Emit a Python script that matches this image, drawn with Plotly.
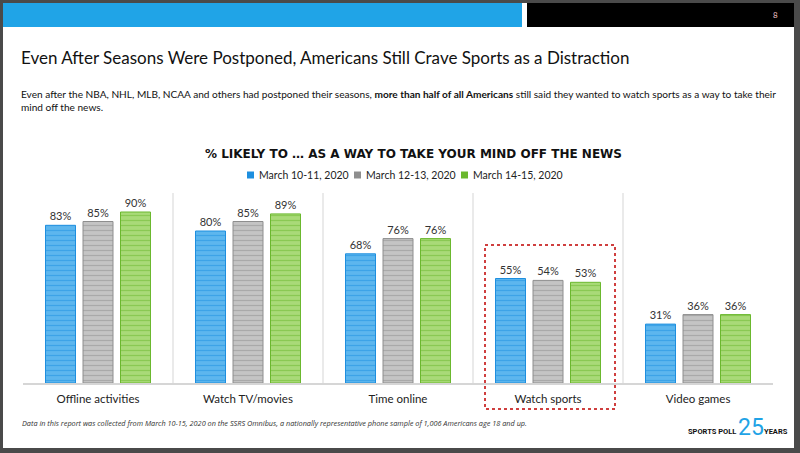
import plotly.graph_objects as go

categories = ["Offline activities", "Watch TV/movies", "Time online", "Watch sports", "Video games"]
march_10_11 = [83, 80, 68, 55, 31]
march_12_13 = [85, 85, 76, 54, 36]
march_14_15 = [90, 89, 76, 53, 36]
series_names = ["March 10-11, 2020", "March 12-13, 2020", "March 14-15, 2020"]

W, H = 800, 453
L, R, T, B = 23, 27, 193, 70
FONT = "Lato"


def px(x):
    return (x - L) / (W - L - R)


def py(y):
    return (H - B - y) / (H - T - B)


fig = go.Figure()

styles = [("#5DB6EE", "#1E8FDF"), ("#C4C4C4", "#8E8E8E"), ("#A9DA78", "#6BB82E")]
for name, vals, (fill, line) in zip(series_names, [march_10_11, march_12_13, march_14_15], styles):
    fig.add_trace(go.Bar(
        x=categories, y=vals, name=name, showlegend=False,
        marker=dict(color=fill, line=dict(color=line, width=1),
                    pattern=dict(shape="-", fgcolor=line, size=5, solidity=0.25)),
        texttemplate="%{y}%", textposition="outside",
        textfont=dict(family=FONT, size=11, color="#333333"),
        cliponaxis=False,
    ))

shapes = []
# page frame
shapes.append(dict(type="rect", xref="paper", yref="paper", x0=px(3), x1=px(794), y0=py(3), y1=py(448),
                   fillcolor="white", line=dict(width=0), layer="below"))
shapes.append(dict(type="rect", xref="paper", yref="paper", x0=px(3), x1=px(522), y0=py(3), y1=py(27),
                   fillcolor="#20A4E7", line=dict(width=0), layer="below"))
shapes.append(dict(type="rect", xref="paper", yref="paper", x0=px(527), x1=px(794), y0=py(3), y1=py(27),
                   fillcolor="#000000", line=dict(width=0), layer="below"))
# category separators
for i in range(len(categories) - 1):
    shapes.append(dict(type="line", xref="x", yref="paper", x0=i + 0.5, x1=i + 0.5, y0=0, y1=1,
                       line=dict(color="#E3E3E3", width=1.5), layer="below"))
# highlight box
shapes.append(dict(type="rect", xref="paper", yref="paper", x0=px(485), x1=px(615), y0=py(245), y1=py(409),
                   line=dict(color="#C00000", width=1.5, dash="dot")))

annotations = [
    dict(text="8", x=px(775), y=py(15), xanchor="center", font=dict(family=FONT, size=8, color="#F2C4C4")),
    dict(text="Even After Seasons Were Postponed, Americans Still Crave Sports as a Distraction",
         x=px(19), y=py(57), xanchor="left", font=dict(family=FONT, size=17, color="#111111")),
    dict(text="Even after the NBA, NHL, MLB, NCAA and others had postponed their seasons, "
              "<b>more than half of all Americans</b> still said they wanted to watch sports as a way to take their"
              "<br>mind off the news.",
         x=px(19), y=py(100), xanchor="left", align="left",
         font=dict(family=FONT, size=10.1, color="#111111")),
    dict(text="<b>% LIKELY TO … AS A WAY TO TAKE YOUR MIND OFF THE NEWS</b>",
         x=px(413), y=py(154), xanchor="center", font=dict(family="DejaVu Sans", size=12, color="#111111")),
    dict(text="<i>Data in this report was collected from March 10-15, 2020 on the SSRS Omnibus, "
              "a nationally representative phone sample of 1,006 Americans age 18 and up.</i>",
         x=px(20), y=py(423), xanchor="left", font=dict(family="Open Sans", size=7.3, color="#333333")),
    dict(text="<b>SPORTS POLL</b>", x=px(738), y=py(431.5), xanchor="right",
         font=dict(family="Roboto", size=7.5, color="#111111")),
    dict(text="25", x=px(751), y=py(427), xanchor="center", font=dict(family="Roboto", size=23, color="#1FA3E6")),
    dict(text="<b>YEARS</b>", x=px(762), y=py(431.5), xanchor="left",
         font=dict(family="Roboto", size=7.5, color="#111111")),
]

# legend drawn by hand to keep its compact spacing
legend_x = [247, 354, 461]
for (fill, line), name, lx in zip(styles, series_names, legend_x):
    shapes.append(dict(type="rect", xref="paper", yref="paper", x0=px(lx), x1=px(lx + 7),
                       y0=py(171.5), y1=py(178.5), fillcolor=line, line=dict(width=0)))
    annotations.append(dict(text=name, x=px(lx + 10), y=py(175), xanchor="left",
                            font=dict(family=FONT, size=10.5, color="#222222")))

for a in annotations:
    a.setdefault("xref", "paper")
    a.setdefault("yref", "paper")
    a.setdefault("showarrow", False)
    a.setdefault("yanchor", "middle")

fig.update_layout(
    width=W, height=H,
    margin=dict(l=L, r=R, t=T, b=B),
    paper_bgcolor="#4A4A4A", plot_bgcolor="rgba(0,0,0,0)",
    barmode="group", bargap=0.25, bargroupgap=0.2,
    shapes=shapes, annotations=annotations,
    xaxis=dict(showline=True, linecolor="#D6D6D6", linewidth=2, ticks="", ticklabelstandoff=4,
               tickfont=dict(family=FONT, size=11.5, color="#222222")),
    yaxis=dict(range=[0, 100], visible=False, showgrid=False),
)

fig.write_html("out.html", config={"displayModeBar": False},
               post_script="document.body.style.margin='0px';")
